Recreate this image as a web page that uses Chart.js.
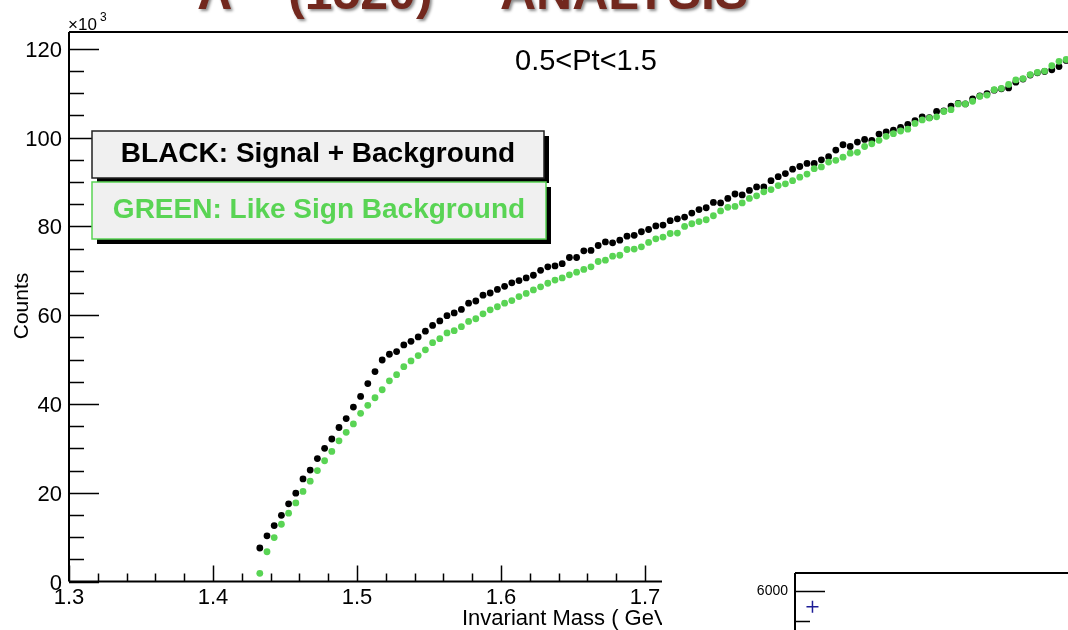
<!DOCTYPE html>
<html>
<head>
<meta charset="utf-8">
<script src="https://cdn.jsdelivr.net/npm/chart.js@4.4.1/dist/chart.umd.min.js"></script>
<style>
  html, body { margin: 0; padding: 0; background: #fff; overflow: hidden; }
  #wrap { position: relative; width: 1068px; height: 630px; overflow: hidden; }
  #massChart { position: absolute; left: 0; top: 0; }
  #insetChart { position: absolute; left: 662px; top: 562px; background: #fff; }
</style>
</head>
<body>
<div id="wrap">
  <canvas id="massChart" width="1100" height="630"></canvas>
  <canvas id="insetChart" width="420" height="80"></canvas>
</div>
<script>
// histogram binning (GeV/c^2)
const binStart = 1.4325;
const binWidth = 0.005;

// counts per bin, in units of 10^3
const signalPlusBkg = [
  7.55, 10.3, 12.6, 14.9, 17.5, 19.9, 23.1, 25.1, 27.7, 30.0,
  32.1, 34.7, 36.7, 39.3, 41.7, 44.6, 47.3, 49.9, 51.2, 51.8,
  53.3, 54.1, 55.1, 56.4, 57.7, 58.7, 59.9, 60.5, 61.3, 62.7,
  63.2, 64.5, 65.0, 65.8, 66.5, 67.3, 67.8, 68.4, 69.0, 70.1,
  70.9, 71.1, 71.6, 73.0, 73.0, 74.5, 74.6, 75.7, 76.5, 76.3,
  76.9, 77.8, 78.0, 78.8, 79.3, 80.1, 80.3, 81.3, 81.7, 82.1,
  83.0, 83.8, 84.2, 85.4, 85.3, 86.3, 87.3, 87.1, 88.1, 88.9,
  88.9, 90.3, 91.2, 91.9, 92.9, 93.5, 94.2, 94.2, 95.0, 95.7,
  97.2, 98.4, 98.0, 99.0, 99.6, 99.4, 100.8, 101.3, 101.7, 102.3,
  103.0, 103.8, 104.7, 104.5, 105.9, 106.0, 107.1, 107.7, 107.6, 108.7,
  109.4, 109.9, 110.7, 111.0, 111.2, 112.5, 113.2, 114.1, 114.6, 114.9,
  115.3, 116.0, 117.4
];
const likeSignBkg = [
  1.85, 6.7, 9.9, 12.9, 15.4, 17.7, 20.3, 22.6, 25.0, 27.2,
  29.3, 31.7, 33.6, 35.5, 37.9, 39.7, 41.4, 43.2, 45.2, 46.6,
  48.4, 49.7, 50.9, 52.2, 53.8, 54.7, 56.0, 56.5, 57.4, 58.6,
  59.2, 60.3, 61.2, 61.9, 62.7, 63.3, 64.2, 64.9, 65.7, 66.4,
  67.2, 67.9, 68.4, 69.1, 69.7, 70.3, 70.9, 72.1, 72.4, 73.3,
  73.5, 74.8, 74.9, 75.4, 76.4, 77.2, 77.6, 78.4, 78.5, 80.0,
  80.6, 81.1, 81.5, 82.4, 83.5, 84.3, 84.5, 85.3, 86.3, 86.9,
  87.8, 88.3, 89.2, 89.6, 90.3, 91.1, 91.8, 93.0, 93.4, 94.5,
  94.9, 95.6, 96.5, 96.7, 98.0, 98.6, 99.4, 100.3, 100.9, 101.5,
  101.9, 103.2, 104.0, 104.4, 104.7, 105.9, 106.3, 107.6, 107.6, 108.2,
  109.3, 109.6, 110.8, 111.1, 112.0, 113.0, 113.3, 114.2, 114.7, 115.0,
  116.2, 117.2, 117.6
];
const massBins = signalPlusBkg.map((_, i) => +(binStart + i * binWidth).toFixed(4));

const xTicks = [1.3, 1.4, 1.5, 1.6, 1.7, 1.8, 1.9, 2.0];
const yTicks = [0, 20, 40, 60, 80, 100, 120];

// lower pad (only its corner shows)
const insetMass = [1.3375];
const insetCounts = [5735];
const insetTicks = [6000];

const FONT = "'Liberation Sans', Helvetica, Arial, sans-serif";
const GREEN = '#59d454';

function drawPave(ctx, x, y, w, h, border, text, color) {
  ctx.fillStyle = '#000';
  ctx.fillRect(x + 5, y + 5, w, h);
  ctx.fillStyle = '#f0f0f0';
  ctx.fillRect(x, y, w, h);
  ctx.strokeStyle = border;
  ctx.lineWidth = 1.5;
  ctx.strokeRect(x, y, w, h);
  ctx.fillStyle = color;
  ctx.font = 'bold 28px ' + FONT;
  ctx.textAlign = 'center';
  ctx.textBaseline = 'middle';
  ctx.fillText(text, x + w / 2, y + h / 2);
}

// ROOT-like frame: inward ticks, labels, titles and paves
const rootFrame = {
  id: 'rootFrame',
  afterDatasetsDraw(chart) {
    const { ctx, chartArea: a, scales: { x, y } } = chart;
    ctx.save();

    ctx.strokeStyle = '#000';
    ctx.lineWidth = 2;
    ctx.beginPath();
    ctx.moveTo(a.left, a.top); ctx.lineTo(a.right, a.top);
    ctx.moveTo(a.left, a.top); ctx.lineTo(a.left, a.bottom);
    ctx.moveTo(a.left, a.bottom); ctx.lineTo(a.right, a.bottom);
    ctx.stroke();

    // y ticks: major every 20, minor every 5
    ctx.lineWidth = 1.5;
    ctx.beginPath();
    for (let v = 0; v <= y.max; v += 5) {
      const py = Math.round(y.getPixelForValue(v)) + 0.5;
      const len = v % 20 === 0 ? 30 : 15;
      ctx.moveTo(a.left, py); ctx.lineTo(a.left + len, py);
    }
    // x ticks: major every 0.1, minor every 0.02
    for (let k = 0; k <= 35; k++) {
      const v = x.min + k * 0.02;
      const px = Math.round(x.getPixelForValue(v)) + 0.5;
      const len = k % 5 === 0 ? 16 : 8;
      ctx.moveTo(px, a.bottom); ctx.lineTo(px, a.bottom - len);
    }
    ctx.stroke();

    ctx.fillStyle = '#000';
    ctx.font = '22px ' + FONT;
    ctx.textAlign = 'right';
    ctx.textBaseline = 'alphabetic';
    yTicks.forEach(v => ctx.fillText(String(v), a.left - 7, y.getPixelForValue(v) + 8));
    ctx.textAlign = 'center';
    xTicks.forEach(v => ctx.fillText(v.toFixed(1), x.getPixelForValue(v), a.bottom + 22));

    // axis multiplier
    ctx.textAlign = 'left';
    ctx.font = '17px ' + FONT;
    ctx.fillText('\u00d710', a.left - 1, 30);
    ctx.font = '12px ' + FONT;
    ctx.fillText('3', a.left + 31, 21);

    // axis titles
    ctx.font = '22px ' + FONT;
    ctx.fillText('Invariant Mass ( GeV/c\u00b2 )', 462, 625);
    ctx.save();
    ctx.translate(28, 306);
    ctx.rotate(-Math.PI / 2);
    ctx.textAlign = 'center';
    ctx.font = '21px ' + FONT;
    ctx.fillText('Counts', 0, 0);
    ctx.restore();

    ctx.font = '29px ' + FONT;
    ctx.textAlign = 'left';
    ctx.textBaseline = 'middle';
    ctx.fillText('0.5<Pt<1.5', 515, 62);

    drawPave(ctx, 92, 131, 452, 47, '#222', 'BLACK: Signal + Background', '#000');
    drawPave(ctx, 92, 182, 454, 57, GREEN, 'GREEN: Like Sign Background', GREEN);

    // slide title running off the top edge
    ctx.shadowColor = 'rgba(0,0,0,0.45)';
    ctx.shadowBlur = 3;
    ctx.shadowOffsetX = 2;
    ctx.shadowOffsetY = 2;
    ctx.fillStyle = '#72281e';
    ctx.textAlign = 'left';
    ctx.textBaseline = 'alphabetic';
    ctx.font = 'bold 50px ' + FONT;
    ctx.fillText('\u039b', 198, 9);
    ctx.fillText('(1520)', 288, 9);
    ctx.fillText('ANALYSIS', 500, 9);
    ctx.font = 'bold 30px ' + FONT;
    ctx.fillText('*', 248, -14);

    ctx.restore();
  }
};

new Chart(document.getElementById('massChart'), {
  type: 'scatter',
  data: {
    datasets: [
      {
        label: 'Like Sign Background',
        data: massBins.map((m, i) => ({ x: m, y: likeSignBkg[i] })),
        backgroundColor: GREEN,
        borderWidth: 0,
        pointRadius: 3.4,
        order: 0
      },
      {
        label: 'Signal + Background',
        data: massBins.map((m, i) => ({ x: m, y: signalPlusBkg[i] })),
        backgroundColor: '#000',
        borderWidth: 0,
        pointRadius: 3.4,
        order: 1
      }
    ]
  },
  options: {
    responsive: false,
    animation: false,
    events: [],
    layout: { padding: { left: 69, top: 32, right: 23, bottom: 48.5 } },
    plugins: { legend: { display: false }, tooltip: { enabled: false } },
    scales: {
      x: { type: 'linear', display: false, min: 1.3, max: 2.0 },
      y: { display: false, min: 0, max: 123.8 }
    }
  },
  plugins: [rootFrame]
});

// corner of the lower pad
const insetFrame = {
  id: 'insetFrame',
  afterDatasetsDraw(chart) {
    const { ctx, chartArea: a, scales: { y } } = chart;
    ctx.save();
    ctx.strokeStyle = '#000';
    ctx.lineWidth = 2;
    ctx.beginPath();
    ctx.moveTo(a.left, a.top); ctx.lineTo(a.right, a.top);
    ctx.moveTo(a.left, a.top); ctx.lineTo(a.left, a.bottom);
    ctx.stroke();
    ctx.lineWidth = 1.5;
    ctx.beginPath();
    for (let v = 5500; v <= y.max; v += 500) {
      const py = Math.round(y.getPixelForValue(v)) + 0.5;
      const len = v % 2000 === 0 ? 30 : 15;
      ctx.moveTo(a.left, py); ctx.lineTo(a.left + len, py);
    }
    ctx.stroke();
    ctx.fillStyle = '#000';
    ctx.font = '14px ' + FONT;
    ctx.textAlign = 'right';
    ctx.textBaseline = 'middle';
    insetTicks.forEach(v => ctx.fillText(String(v), a.left - 7, y.getPixelForValue(v)));
    ctx.restore();
  }
};

new Chart(document.getElementById('insetChart'), {
  type: 'scatter',
  data: {
    datasets: [{
      label: 'Signal',
      data: insetMass.map((m, i) => ({ x: m, y: insetCounts[i] })),
      pointStyle: 'cross',
      pointRadius: 6,
      borderColor: '#1c1c96',
      borderWidth: 1.5
    }]
  },
  options: {
    responsive: false,
    animation: false,
    events: [],
    layout: { padding: { left: 133, top: 11, right: 0, bottom: 0 } },
    plugins: { legend: { display: false }, tooltip: { enabled: false } },
    scales: {
      x: { type: 'linear', display: false, min: 1.3, max: 1.9 },
      y: { display: false, min: 5279, max: 6294 }
    }
  },
  plugins: [insetFrame]
});
</script>
</body>
</html>
